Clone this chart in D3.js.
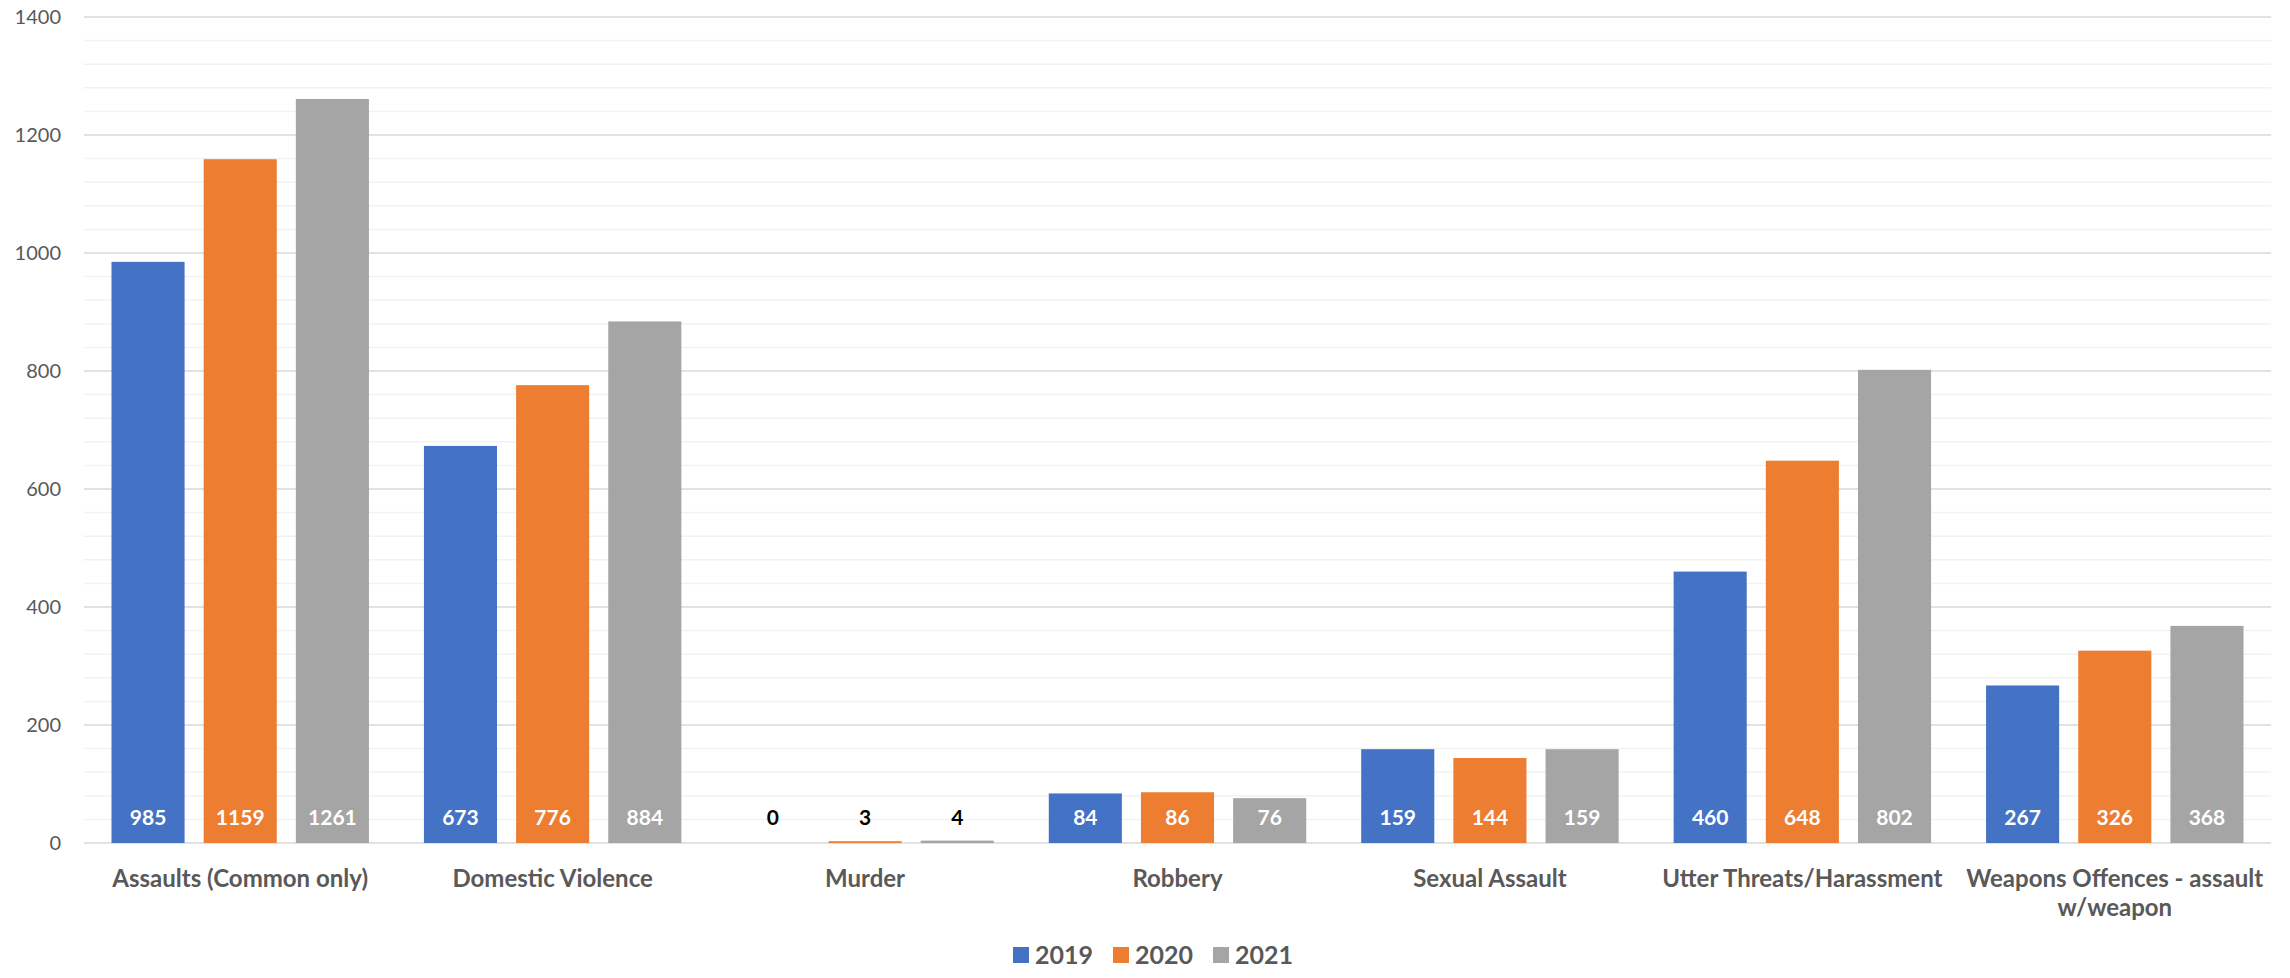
<!DOCTYPE html>
<html>
  <head>
    <meta charset="utf-8">
    <script src="https://cdn.jsdelivr.net/npm/d3@7/dist/d3.min.js"></script>
    <style>
      body { margin: 0; background: #fff; }
      text { font-family: Lato, "Open Sans", sans-serif; }
      .grid-major line { stroke: #d9d9d9; stroke-width: 1.5px; }
      .grid-minor line { stroke: #f2f2f2; stroke-width: 1.5px; }
      .y-label { fill: #595959; font-size: 20px; }
      .cat-label { fill: #595959; font-size: 24px; font-weight: bold; }
      .value-label { font-size: 21px; font-weight: bold; }
      .legend-label { fill: #595959; font-size: 25px; font-weight: bold; }
    </style>
  </head>
  <body>
    <script>
      const categories = [
        'Assaults (Common only)',
        'Domestic Violence',
        'Murder',
        'Robbery',
        'Sexual Assault',
        'Utter Threats/Harassment',
        'Weapons Offences - assault w/weapon'
      ];
      const years = ['2019', '2020', '2021'];
      const values2019 = [985, 673, 0, 84, 159, 460, 267];
      const values2020 = [1159, 776, 3, 86, 144, 648, 326];
      const values2021 = [1261, 884, 4, 76, 159, 802, 368];
      const colors = ['#4472C4', '#ED7D31', '#A5A5A5'];
      const yTicks = [0, 200, 400, 600, 800, 1000, 1200, 1400];

      const width = 2290;
      const height = 978;
      const margin = {top: 17, right: 19, bottom: 135, left: 84};

      const series = [values2019, values2020, values2021];
      const rows = categories.map((c, i) => ({
        category: c,
        values: years.map((y, j) => ({year: y, value: series[j][i], color: colors[j]}))
      }));

      const svg = d3.select('body')
        .append('svg')
        .attr('width', width)
        .attr('height', height);

      const x0 = d3.scaleBand()
        .domain(categories)
        .range([margin.left, width - margin.right])
        .paddingInner(0)
        .paddingOuter(0);

      const inset = x0.bandwidth() * 0.088;
      const x1 = d3.scaleBand()
        .domain(years)
        .range([inset, x0.bandwidth() - inset])
        .paddingInner(0.207);

      const y = d3.scaleLinear()
        .domain([0, 1400])
        .range([height - margin.bottom, margin.top]);

      // minor grid every 40
      svg.append('g')
        .attr('class', 'grid-minor')
        .selectAll('line')
        .data(d3.range(0, 1401, 40).filter(v => v % 200 !== 0))
        .enter()
        .append('line')
        .attr('x1', margin.left)
        .attr('x2', width - margin.right)
        .attr('y1', d => y(d))
        .attr('y2', d => y(d));

      svg.append('g')
        .attr('class', 'grid-major')
        .selectAll('line')
        .data(yTicks)
        .enter()
        .append('line')
        .attr('x1', margin.left)
        .attr('x2', width - margin.right)
        .attr('y1', d => y(d))
        .attr('y2', d => y(d));

      svg.append('g')
        .selectAll('text')
        .data(yTicks)
        .enter()
        .append('text')
        .attr('class', 'y-label')
        .attr('x', margin.left - 23)
        .attr('y', d => y(d))
        .attr('dy', '0.36em')
        .attr('text-anchor', 'end')
        .text(d => d);

      const groups = svg.selectAll('.group')
        .data(rows)
        .enter()
        .append('g')
        .attr('class', 'group')
        .attr('transform', d => `translate(${x0(d.category)},0)`);

      groups.selectAll('rect')
        .data(d => d.values)
        .enter()
        .append('rect')
        .attr('x', d => x1(d.year))
        .attr('y', d => y(d.value))
        .attr('width', x1.bandwidth())
        .attr('height', d => y(0) - y(d.value))
        .style('fill', d => d.color);

      groups.selectAll('.value-label')
        .data(d => d.values)
        .enter()
        .append('text')
        .attr('class', 'value-label')
        .attr('x', d => x1(d.year) + x1.bandwidth() / 2)
        .attr('y', y(0) - 18)
        .attr('text-anchor', 'middle')
        .style('fill', d => (y(0) - y(d.value)) > 30 ? '#fff' : '#000')
        .text(d => d.value);

      // category labels, wrapped to band width like Excel does
      const catLabels = svg.append('g')
        .selectAll('text')
        .data(categories)
        .enter()
        .append('text')
        .attr('class', 'cat-label')
        .attr('text-anchor', 'middle')
        .attr('x', d => x0(d) + x0.bandwidth() / 2)
        .attr('y', y(0) + 44);

      catLabels.each(function(d) {
        const text = d3.select(this);
        const words = d.split(' ');
        let line = [];
        let tspan = text.append('tspan').attr('x', text.attr('x')).attr('dy', 0);
        words.forEach(w => {
          line.push(w);
          tspan.text(line.join(' '));
          if (tspan.node().getComputedTextLength() > x0.bandwidth() && line.length > 1) {
            line.pop();
            tspan.text(line.join(' '));
            line = [w];
            tspan = text.append('tspan')
              .attr('x', text.attr('x'))
              .attr('dy', '1.2em')
              .text(w);
          }
        });
      });

      // legend
      const legend = svg.append('g')
        .attr('transform', `translate(${width / 2 - 132},${height - 12})`);

      const items = legend.selectAll('g')
        .data(years)
        .enter()
        .append('g')
        .attr('transform', (d, i) => `translate(${i * 100},0)`);

      items.append('rect')
        .attr('x', 0)
        .attr('y', -19)
        .attr('width', 16)
        .attr('height', 16)
        .style('fill', (d, i) => colors[i]);

      items.append('text')
        .attr('class', 'legend-label')
        .attr('x', 22)
        .attr('y', -11)
        .attr('dy', '0.36em')
        .text(d => d);
    </script>
  </body>
</html>
